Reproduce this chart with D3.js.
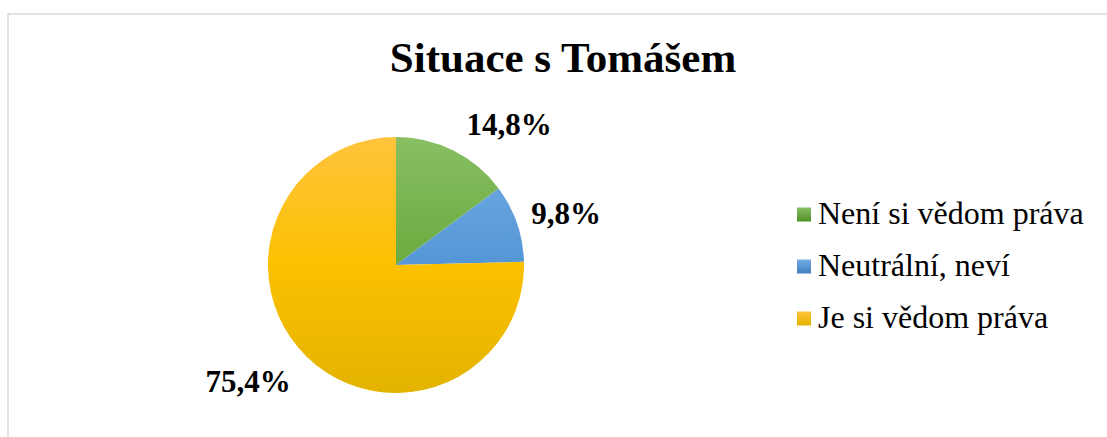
<!DOCTYPE html>
<html><head><meta charset="utf-8">
<script src="https://cdn.jsdelivr.net/npm/d3@7"></script>
<style>body{margin:0;background:#fff}svg{display:block}</style>
</head><body>
<svg id="c" width="1107" height="437"></svg>
<script>
const categories = ["Není si vědom práva", "Neutrální, neví", "Je si vědom práva"];
const values = [14.8, 9.8, 75.4];
const labels = ["14,8%", "9,8%", "75,4%"];
const title = "Situace s Tomášem";

const svg = d3.select("#c");
const W = 1107, H = 437;
svg.append("rect").attr("x", 8).attr("y", 14).attr("width", W).attr("height", H)
  .attr("fill", "#fff").attr("stroke", "#d9d9d9").attr("stroke-width", 1.5);

const cx = 396, cy = 265, R = 128;
const grads = [
  ["#88bf63", "#6aab3f", "#4f8f26"],
  ["#74aee3", "#5496d6", "#3e7fbf"],
  ["#ffc43c", "#fbc100", "#e3b300"]
];
const defs = svg.append("defs");
grads.forEach((g, i) => {
  const lg = defs.append("linearGradient").attr("id", "g" + i)
    .attr("gradientUnits", "userSpaceOnUse")
    .attr("x1", 0).attr("y1", -R).attr("x2", 0).attr("y2", R);
  lg.append("stop").attr("offset", "0").attr("stop-color", g[0]);
  lg.append("stop").attr("offset", "0.5").attr("stop-color", g[1]);
  lg.append("stop").attr("offset", "1").attr("stop-color", g[2]);
});

const pie = d3.pie().sort(null).value(d => d);
const arcs = pie(values);
const arc = d3.arc().innerRadius(0).outerRadius(R);
const g = svg.append("g").attr("transform", `translate(${cx},${cy})`);
g.selectAll("path").data(arcs).join("path")
  .attr("d", arc).attr("fill", (d, i) => `url(#g${i})`);

svg.append("text").attr("x", 563).attr("y", 72).attr("text-anchor", "middle")
  .attr("font-family", "Liberation Serif").attr("font-weight", "bold")
  .attr("font-size", 43).attr("fill", "#000").text(title);

const labelPos = [[509, 135], [566, 224], [248, 392]];
svg.selectAll("text.lbl").data(arcs).join("text").attr("class", "lbl")
  .attr("x", (d, i) => labelPos[i][0]).attr("y", (d, i) => labelPos[i][1])
  .attr("text-anchor", "middle")
  .attr("font-family", "Liberation Serif").attr("font-weight", "bold")
  .attr("font-size", 31).attr("fill", "#000")
  .text((d, i) => labels[i]);

const lg = svg.append("g");
const ly = d3.scalePoint().domain(categories).range([214.5, 318.5]);
categories.forEach((c, i) => {
  const l = defs.append("linearGradient").attr("id", "L" + i).attr("x1", 0).attr("y1", 0).attr("x2", 0).attr("y2", 1);
  l.append("stop").attr("offset", 0).attr("stop-color", grads[i][0]);
  l.append("stop").attr("offset", 1).attr("stop-color", grads[i][2]);
  lg.append("rect").attr("x", 797).attr("y", ly(c) - 7).attr("width", 14).attr("height", 14)
    .attr("fill", `url(#L${i})`);
  lg.append("text").attr("x", 818).attr("y", ly(c) + 9.5)
    .attr("font-family", "Liberation Serif").attr("font-size", 32).attr("fill", "#000").text(c);
});
</script>
</body></html>
